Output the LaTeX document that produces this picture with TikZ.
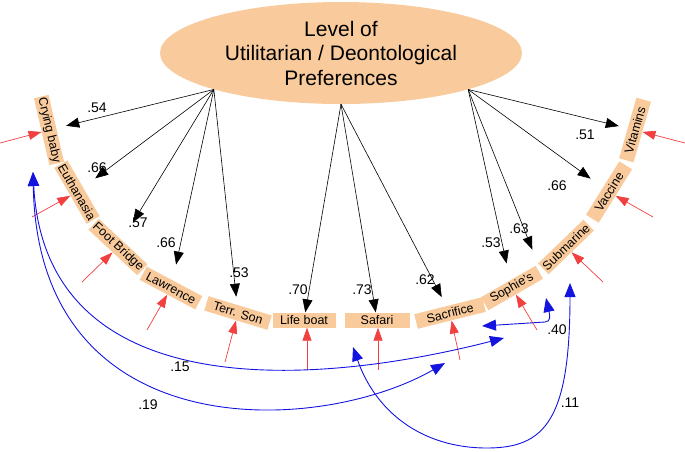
\documentclass[tikz,border=0pt]{standalone}
\usepackage{fontspec}
\setmainfont{Liberation Sans}
\usetikzlibrary{shapes.geometric,arrows.meta}
\definecolor{peach}{RGB}{249,203,156}
\definecolor{corrblue}{RGB}{20,20,225}
\definecolor{errred}{RGB}{240,64,64}
\begin{document}
\begin{tikzpicture}[x=1pt,y=-1pt,
  item/.style={fill=peach, minimum width=63pt, minimum height=15pt, inner xsep=1pt, inner ysep=0pt, font=\fontsize{12.5}{14}\selectfont},
  load/.style={-{Triangle[length=13pt,width=10pt]}, line width=0.6pt, black},
  err/.style={-{Triangle[length=13pt,width=9pt]}, line width=0.7pt, errred},
  corr/.style={line width=0.9pt, corrblue, {Triangle[length=14pt,width=11pt]}-{Triangle[length=14pt,width=11pt]}},
  coef/.style={font=\fontsize{14}{16}\selectfont, inner sep=0pt}]
\useasboundingbox (0,0) rectangle (685,451);

% latent factor
\node[ellipse, fill=peach, minimum width=362pt, minimum height=102pt, inner sep=-6pt, align=center,
      font=\fontsize{21}{24.5}\selectfont] (lv) at (341,53) {Level of\\Utilitarian / Deontological\\Preferences};

% items
\node[item, rotate=-77] (cry) at (49,130) {Crying baby};
\node[item, rotate=-60] (euth) at (77,192) {Euthanasia};
\node[item, rotate=-43] (foot) at (118,247) {Foot Bridge};
\node[item, rotate=-28] (law) at (171,288) {Lawrence};
\node[item, rotate=-17, minimum width=66pt] (terr) at (238,313) {Terr. Son};
\node[item] (life) at (304,320) {Life boat};
\node[item, minimum width=65pt] (saf) at (377,320) {Safari};
\node[item, rotate=14, minimum width=70pt] (sac) at (450,313) {Sacrifice};
\node[item, rotate=30] (soph) at (512,288) {Sophie's};
\node[item, rotate=44] (sub) at (566,247) {Submarine};
\node[item, rotate=58] (vac) at (609,192) {Vaccine};
\node[item, rotate=74] (vit) at (635,130) {Vitamins};

% loadings
\draw[load, shorten >=10pt] (lv.196) -- (cry);
\draw[load, shorten >=15pt] (lv.196) -- (euth);
\draw[load, shorten >=21pt] (lv.196) -- (foot);
\draw[load, shorten >=16pt] (lv.196) -- (law);
\draw[load, shorten >=8pt] (lv.196) -- (terr);
\draw[load] (lv.270) -- (life);
\draw[load] (lv.270) -- (saf);
\draw[load, shorten >=10pt] (lv.270) -- (sac);
\draw[load, shorten >=17pt] (lv.344) -- (soph);
\draw[load, shorten >=15pt] (lv.344) -- (sub.north west);
\draw[load, shorten >=15pt] (lv.344) -- (vac);
\draw[load, shorten >=9pt] (lv.344) -- (vit);

\node[coef] (c1) at (97,108) {.54};
\node[coef] (c2) at (97,168) {.66};
\node[coef] (c3) at (138,223) {.57};
\node[coef] (c4) at (166,243) {.66};
\node[coef] (c5) at (239,273) {.53};
\node[coef] (c6) at (298,290) {.70};
\node[coef] (c7) at (362,290) {.73};
\node[coef] (c8) at (425,280) {.62};
\node[coef] (c9) at (491,243) {.53};
\node[coef] (c10) at (519,229) {.63};
\node[coef] (c11) at (557,186) {.66};
\node[coef] (c12) at (585,135) {.51};

% error terms
\coordinate (ecry) at (0,143);
\coordinate (eeuth) at (32,217);
\coordinate (efoot) at (82,282);
\coordinate (elaw) at (147,330);
\coordinate (eterr) at (225,362);
\coordinate (elife) at (307,370);
\coordinate (esaf) at (378,370);
\coordinate (esac) at (460,360);
\coordinate (esoph) at (537,330);
\coordinate (esub) at (603,282);
\coordinate (evac) at (653,217);
\coordinate (evit) at (685,143);
\draw[err] (ecry) -- (cry);
\draw[err] (eeuth) -- (euth);
\draw[err] (efoot) -- (foot);
\draw[err] (elaw) -- (law);
\draw[err] (eterr) -- (terr);
\draw[err] (elife) -- (elife |- life.south);
\draw[err] (esaf) -- (esaf |- saf.south);
\draw[err] (esac) -- (sac);
\draw[err] (esoph) -- (soph);
\draw[err] (esub) -- (sub);
\draw[err] (evac) -- (vac);
\draw[err] (evit) -- (vit);

% correlated residuals
\coordinate (bcry) at (33,172);
\coordinate (bsoph) at (504,338);
\coordinate (bsac) at (445,363);
\coordinate (b40l) at (482,326);
\coordinate (b40r) at (546,298);
\coordinate (bsaf) at (353,347);
\coordinate (bsub) at (570,283);
\draw[corr] (bcry) .. controls (45,400) and (300,390) .. (bsoph);
\draw[corr] (bcry) .. controls (38,450) and (320,435) .. (bsac);
\draw[corr] (b40l) -- (545,322) .. controls (551,321.5) and (550,316) .. (b40r);
\draw[corr] (bsaf) .. controls (375,410) and (420,448) .. (487,448) .. controls (545,448) and (570,420) .. (bsub);

\node[coef] (k15) at (180,367) {.15};
\node[coef] (k19) at (148,405) {.19};
\node[coef] (k40) at (557,330) {.40};
\node[coef] (k11) at (570,403) {.11};
\end{tikzpicture}
\end{document}
